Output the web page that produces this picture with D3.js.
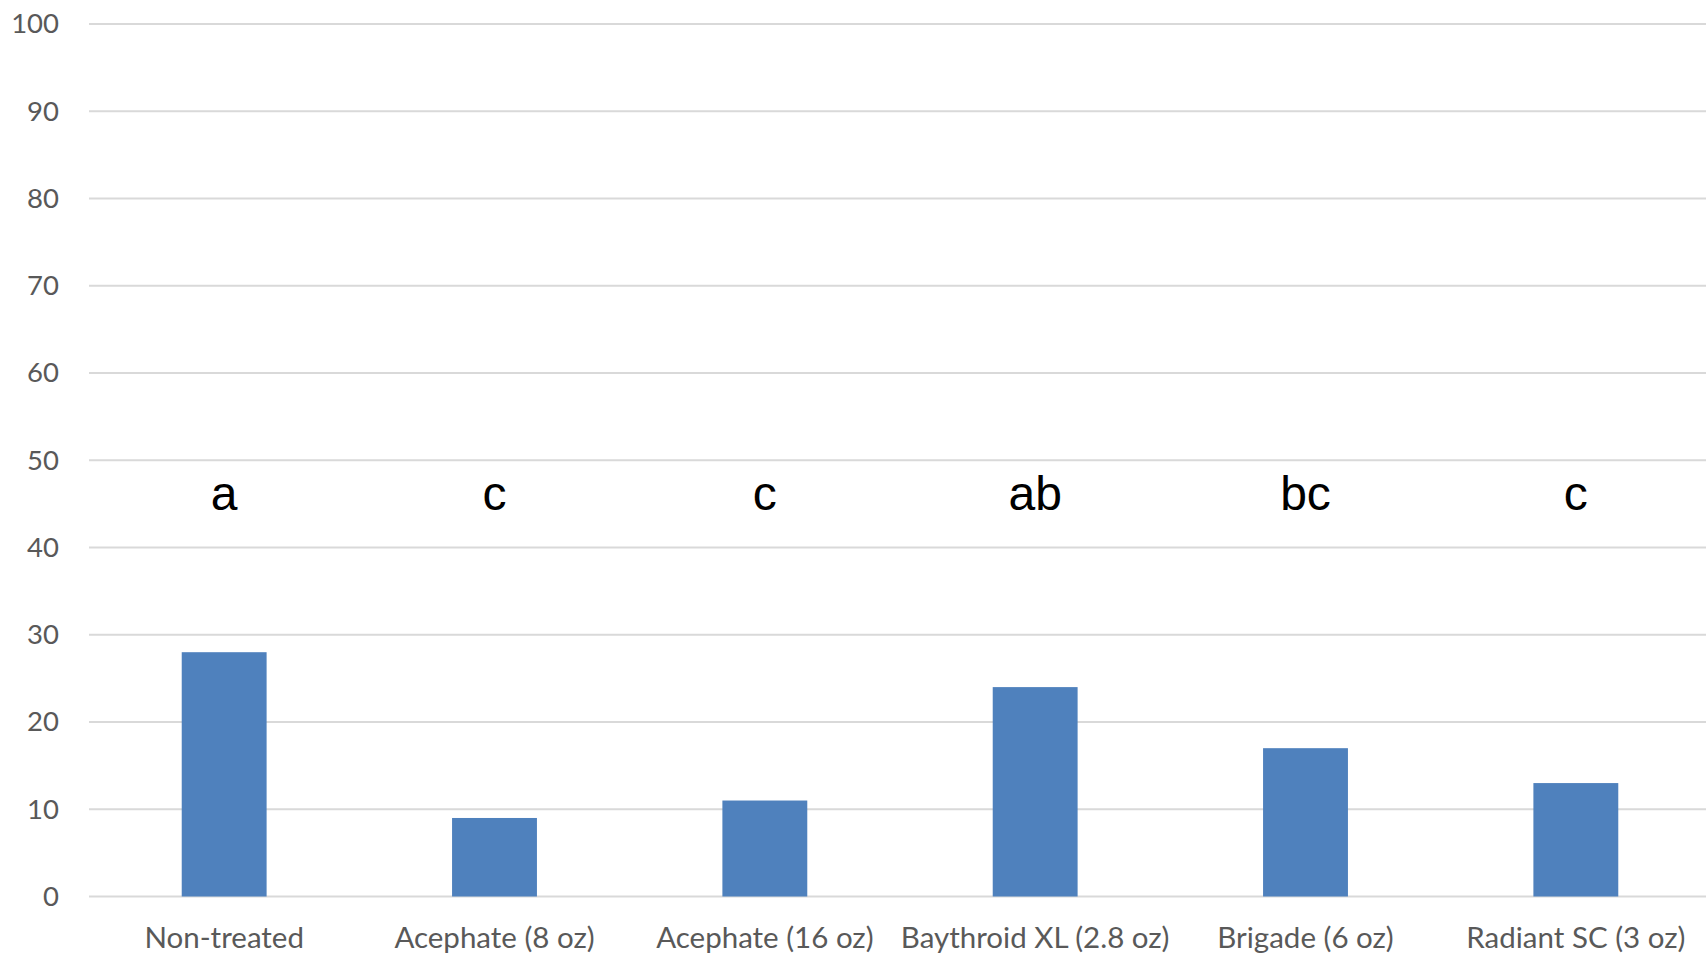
<!DOCTYPE html>
<html><head><meta charset="utf-8">
<script src="https://cdn.jsdelivr.net/npm/d3@7"></script>
<style>html,body{margin:0;padding:0;background:#fff;overflow:hidden}</style>
</head><body>
<svg id="chart" width="1706" height="953"></svg>
<script>
const categories = ["Non-treated","Acephate (8 oz)","Acephate (16 oz)","Baythroid XL (2.8 oz)","Brigade (6 oz)","Radiant SC (3 oz)"];
const values = [28, 9, 11, 24, 17, 13];
const letters = ["a","c","c","ab","bc","c"];
const letterLevel = 46;
const yTicks = [0,10,20,30,40,50,60,70,80,90,100];

const svg = d3.select("#chart");
const x = d3.scaleBand().domain(categories).range([89, 1711]).paddingInner(0.686).paddingOuter(0.343);
const y = d3.scaleLinear().domain([0,100]).range([896.5, 24]);

// gridlines
svg.append("g").selectAll("line").data(yTicks).join("line")
  .attr("x1", 89).attr("x2", 1706)
  .attr("y1", d => y(d)).attr("y2", d => y(d))
  .attr("stroke", "#d9d9d9").attr("stroke-width", 2);

// y axis labels
const yAxis = d3.axisLeft(y).tickValues(yTicks).tickSize(0).tickPadding(0);
const gy = svg.append("g").attr("transform", "translate(59,0)").call(yAxis);
gy.select(".domain").remove();
gy.selectAll("text").attr("font-family","Lato, 'Open Sans', sans-serif").attr("font-size", 27.5).attr("fill","#595959");

// bars
svg.append("g").selectAll("rect").data(values).join("rect")
  .attr("x", (d,i) => x(categories[i]))
  .attr("width", x.bandwidth())
  .attr("y", d => y(d))
  .attr("height", d => y(0) - y(d))
  .attr("fill", "#4f81bd");

// x axis labels
const xAxis = d3.axisBottom(x).tickSize(0).tickPadding(0);
const gx = svg.append("g").attr("transform", "translate(0,927)").call(xAxis);
gx.select(".domain").remove();
gx.selectAll("text").attr("font-family","Lato, 'Open Sans', sans-serif").attr("font-size", 29.5).attr("fill","#595959");

// significance letters
svg.append("g").selectAll("text").data(letters).join("text")
  .attr("x", (d,i) => x(categories[i]) + x.bandwidth()/2)
  .attr("y", y(letterLevel) - 2)
  .attr("dy", "0.35em")
  .attr("text-anchor", "middle")
  .attr("font-family", "'Liberation Sans', Arial, sans-serif")
  .attr("font-size", 48)
  .attr("fill", "#000")
  .text(d => d);
</script>
</body></html>
